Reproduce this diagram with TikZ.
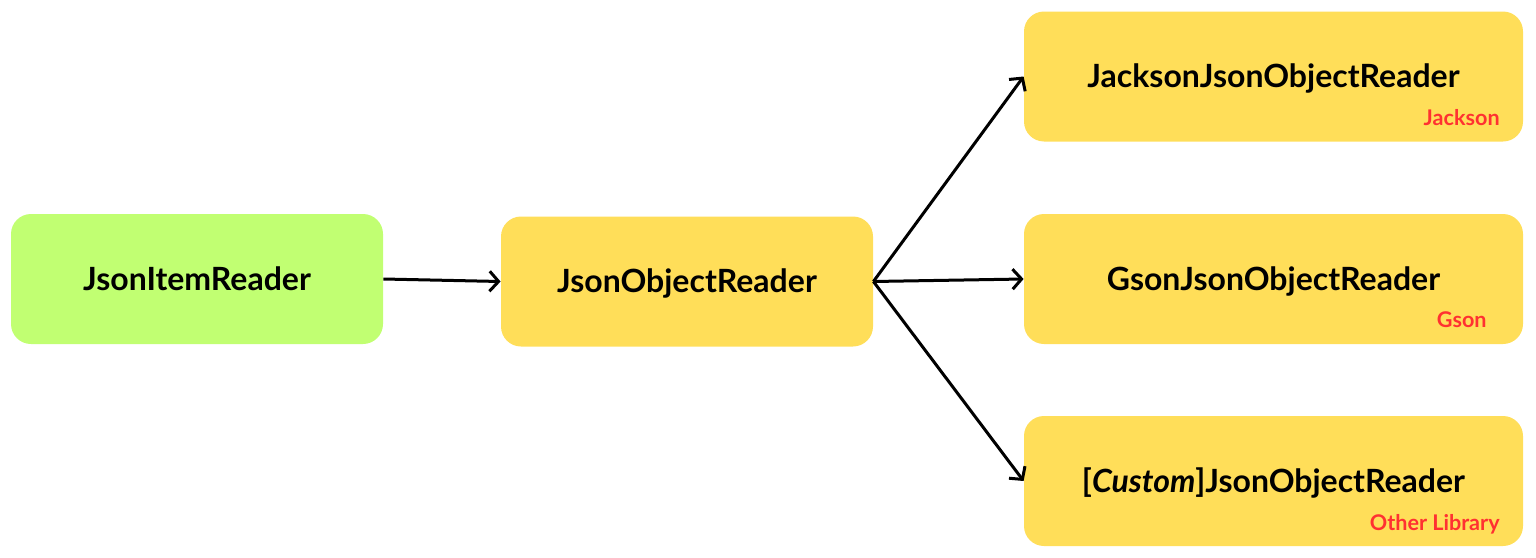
\documentclass[tikz,border=0pt]{standalone}
\usepackage{fontspec}
\setmainfont{Lato}
\usetikzlibrary{arrows.meta}
\definecolor{boxyellow}{HTML}{FFDE59}
\definecolor{boxgreen}{HTML}{C1FF72}
\definecolor{libred}{HTML}{FF3131}
\tikzset{
    readerbox/.style={rectangle, rounded corners=10pt, minimum height=65pt,
        font=\bfseries\fontsize{16}{19}\selectfont, text height=11.5pt, text depth=0.5pt},
    smallbox/.style={readerbox, fill=boxyellow, minimum width=186pt},
    libbox/.style={readerbox, fill=boxyellow, minimum width=249.5pt},
    liblabel/.style={anchor=base east, inner sep=0pt, text=libred, font=\bfseries\fontsize{10.8}{12}\selectfont},
    flow/.style={line width=1.5pt, -{Straight Barb[length=4.5pt,width=10pt]}}
}
\begin{document}
\begin{tikzpicture}[x=0.5pt, y=-0.5pt]
                    \useasboundingbox (0, 0) rectangle (1536, 557);

                    %%left side
                    \node[smallbox, fill=boxgreen] (item) at (197, 279){JsonItemReader};
                    \node[smallbox] (object) at (687, 281.5){JsonObjectReader};

                    %%libraries
                    \node[libbox] (jackson) at (1273.5, 76.5){JacksonJsonObjectReader};
                        \node[liblabel] (jacksonlib) at (1500, 125){Jackson};
                    \node[libbox] (gson) at (1273.5, 279){GsonJsonObjectReader};
                        \node[liblabel] (gsonlib) at (1487, 327){Gson};
                    \node[libbox] (custom) at (1273.5, 481){[\textit{Custom}]JsonObjectReader};
                        \node[liblabel] (customlib) at (1500, 530){Other Library};

                    %%arrows
                    \draw[flow] (item.east) to (object.west);
                    \draw[flow] (object.east) to (jackson.west);
                    \draw[flow] (object.east) to (gson.west);
                    \draw[flow] (object.east) to (custom.west);
\end{tikzpicture}
\end{document}
